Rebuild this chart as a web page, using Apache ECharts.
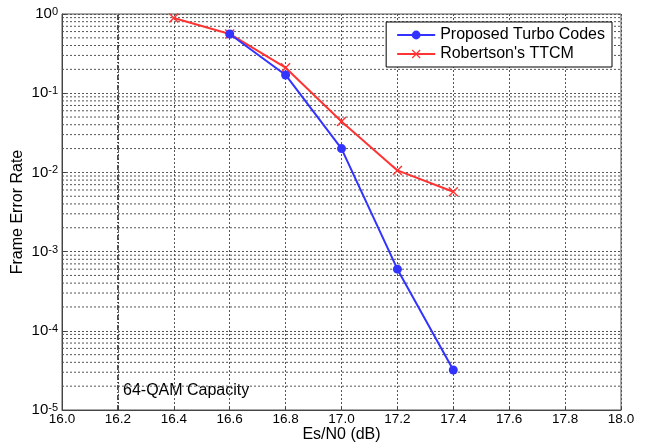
<!DOCTYPE html>
<html>
<head>
<meta charset="utf-8">
<script src="https://cdn.jsdelivr.net/npm/echarts@6/dist/echarts.min.js"></script>
<style>
  html, body { margin: 0; padding: 0; background: #fff; }
  #main { width: 649px; height: 445px; }
</style>
</head>
<body>
<div id="main"></div>
<script>
// Es/N0 points (dB)
var turboX = [16.6, 16.8, 17.0, 17.2, 17.4];
var turboFER = [0.56, 0.17, 0.020, 6.0e-4, 3.2e-5];
var ttcmX = [16.4, 16.6, 16.8, 17.0, 17.2, 17.4];
var ttcmFER = [0.89, 0.56, 0.21, 0.044, 0.0106, 0.0057];

// axis ticks
var decades = [-5, -4, -3, -2, -1];
var minorMult = [2, 3, 4, 5, 6, 7, 8, 9];
var xRange = [16, 18];
var capacityX = 16.2;

var font = 'Liberation Sans, Arial, sans-serif';
var gridDash = { color: '#555', type: [2, 2], width: 1 };

function pairs(xs, ys) {
    return xs.map(function (x, i) { return [x, ys[i]]; });
}

var series = [];

// minor log grid lines (2..9 x 10^k)
decades.forEach(function (d) {
    minorMult.forEach(function (m) {
        var v = m * Math.pow(10, d);
        series.push({
            type: 'line',
            silent: true,
            symbol: 'none',
            lineStyle: gridDash,
            data: [[xRange[0], v], [xRange[1], v]],
            z: 1
        });
    });
});

// capacity line
series.push({
    type: 'line',
    silent: true,
    symbol: 'none',
    lineStyle: { color: '#333', type: [5, 2, 1, 2], width: 1.5 },
    data: [[capacityX, 1e-5], [capacityX, 1]],
    z: 2
});

series.push({
    name: "Robertson's TTCM",
    type: 'line',
    data: pairs(ttcmX, ttcmFER),
    symbol: 'path://M0,1L1,0L5,4L9,0L10,1L6,5L10,9L9,10L5,6L1,10L0,9L4,5Z',
    symbolSize: 10,
    lineStyle: { color: '#ff3333', width: 2 },
    itemStyle: { color: '#ff3333' },
    z: 3
});
series.push({
    name: 'Proposed Turbo Codes',
    type: 'line',
    data: pairs(turboX, turboFER),
    symbol: 'circle',
    symbolSize: 9,
    lineStyle: { color: '#3333ff', width: 2 },
    itemStyle: { color: '#3333ff' },
    z: 4
});

var chart = echarts.init(document.getElementById('main'));
var option = {
    backgroundColor: '#fff',
    animation: false,
    textStyle: { fontFamily: font },
    grid: {
        left: 62,
        right: 28,
        top: 14,
        bottom: 35,
        containLabel: false,
        outerBoundsMode: 'none',
        show: true,
        borderColor: '#555',
        borderWidth: 1
    },
    legend: {
        orient: 'vertical',
        right: 37,
        top: 22,
        itemWidth: 38,
        itemHeight: 11,
        itemGap: 3,
        padding: [5, 7, 5, 10],
        borderColor: '#000',
        borderWidth: 1,
        backgroundColor: '#fff',
        textStyle: { fontSize: 16, color: '#000', fontFamily: font },
        data: ['Proposed Turbo Codes', "Robertson's TTCM"]
    },
    xAxis: {
        type: 'value',
        min: xRange[0],
        max: xRange[1],
        interval: 0.2,
        name: 'Es/N0 (dB)',
        nameLocation: 'middle',
        nameGap: 17,
        nameMoveOverlap: false,
        nameTextStyle: { fontSize: 16, color: '#000', fontFamily: font },
        axisLine: { show: true, lineStyle: { color: '#444' } },
        axisTick: { show: true, inside: true, length: 4, lineStyle: { color: '#444' } },
        axisLabel: {
            fontSize: 13.5,
            color: '#000',
            margin: 2,
            formatter: function (v) { return v.toFixed(1); }
        },
        splitLine: { show: true, lineStyle: gridDash }
    },
    yAxis: {
        type: 'log',
        logBase: 10,
        min: 1e-5,
        max: 1,
        name: 'Frame Error Rate',
        nameLocation: 'middle',
        nameGap: 36,
        nameMoveOverlap: false,
        nameTextStyle: { fontSize: 16, color: '#000', fontFamily: font },
        axisLine: { show: true, lineStyle: { color: '#444' } },
        axisTick: { show: true, inside: true, length: 4, lineStyle: { color: '#444' } },
        axisLabel: {
            margin: 4,
            formatter: function (v) {
                var e = Math.round(Math.log10(v));
                return '{b|10}{s|' + e + '}';
            },
            rich: {
                b: { fontSize: 15, lineHeight: 15, color: '#000', fontFamily: font, verticalAlign: 'bottom' },
                s: { fontSize: 11, lineHeight: 11, color: '#000', fontFamily: font, verticalAlign: 'top', padding: [0, 0, 5, 0] }
            }
        },
        splitLine: { show: true, lineStyle: gridDash }
    },
    graphic: [
        {
            type: 'text',
            left: 123,
            top: 383,
            style: { text: '64-QAM Capacity', fontSize: 16, fill: '#000', fontFamily: font }
        }
    ],
    series: series
};
chart.setOption(option);
</script>
</body>
</html>
